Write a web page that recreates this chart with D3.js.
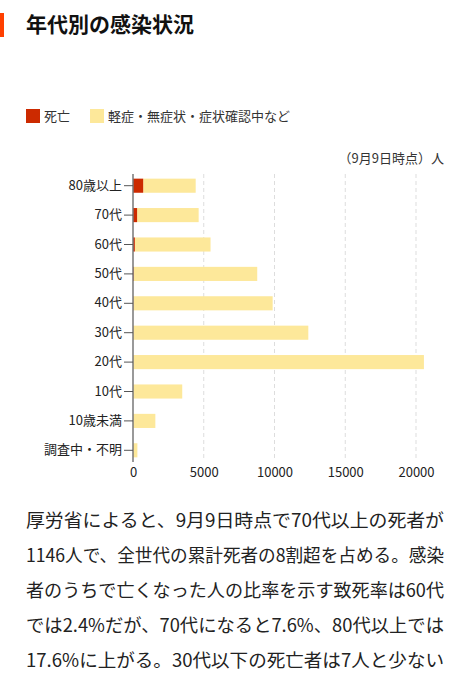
<!DOCTYPE html>
<html><head><meta charset="utf-8">
<script src="https://cdn.jsdelivr.net/npm/d3@7"></script>
<style>body{margin:0;background:#fff;font-family:"Noto Sans CJK JP","Noto Sans",sans-serif}</style>
</head><body><svg id="c" width="459" height="679"></svg>
<script>
const categories=["80歳以上","70代","60代","50代","40代","30代","20代","10代","10歳未満","調査中・不明"];
const deaths=[720,290,130,40,15,5,2,0,0,0];
const totals=[4430,4640,5480,8780,9870,12390,20560,3480,1580,310];
const xTicks=[0,5000,10000,15000,20000];
const seriesNames=["死亡","軽症・無症状・症状確認中など"];
const colors=["#cc2a00","#fde89a"];
const paragraph=["厚労省によると、9月9日時点で70代以上の死者が","1146人で、全世代の累計死者の8割超を占める。感染","者のうちで亡くなった人の比率を示す致死率は60代","では2.4%だが、70代になると7.6%、80代以上では","17.6%に上がる。30代以下の死亡者は7人と少ない"];

const svg=d3.select("#c");
svg.append("rect").attr("x",0).attr("y",13).attr("width",4).attr("height",24).attr("fill","#ff4000");
svg.append("text").attr("x",26).attr("y",32).attr("font-size",21).attr("font-weight","bold").attr("fill","#111").text("年代別の感染状況");

// legend
let lx=26;
seriesNames.forEach((n,i)=>{
  svg.append("rect").attr("x",lx).attr("y",109).attr("width",14).attr("height",14).attr("fill",colors[i]);
  const t=svg.append("text").attr("x",lx+18).attr("y",121).attr("font-size",13).attr("fill","#333").text(n);
  lx+=18+t.node().getComputedTextLength()+20;
});
svg.append("text").attr("x",444).attr("y",163).attr("text-anchor","end").attr("font-size",13).attr("fill","#333").text("（9月9日時点）人");

const x=d3.scaleLinear().domain([0,20000]).range([133,416]);
const y=d3.scaleBand().domain(categories).range([171,465]).paddingInner(0.52).paddingOuter(0.26);

svg.append("g").selectAll("line").data(xTicks.slice(1)).join("line")
 .attr("x1",d=>x(d)).attr("x2",d=>x(d)).attr("y1",174).attr("y2",460)
 .attr("stroke","#ddd").attr("stroke-dasharray","4,3");

categories.forEach((c,i)=>{
  svg.append("rect").attr("x",x(deaths[i])).attr("y",y(c)).attr("width",x(totals[i])-x(deaths[i])).attr("height",y.bandwidth()).attr("fill",colors[1]);
  svg.append("rect").attr("x",x(0)).attr("y",y(c)).attr("width",x(deaths[i])-x(0)).attr("height",y.bandwidth()).attr("fill",colors[0]);
});

const ya=svg.append("g").attr("transform","translate(133,0)").call(d3.axisLeft(y).tickSize(9).tickSizeOuter(0));
ya.select(".domain").attr("stroke","#777").attr("stroke-width",1.5).attr("d","M0,174V462");
ya.selectAll(".tick line").attr("stroke","#555");
ya.selectAll("text").attr("font-size",13).attr("fill","#222").attr("font-family","Noto Sans CJK JP").attr("x",-11);

const xa=svg.append("g").attr("transform","translate(0,462)").call(d3.axisBottom(x).tickValues(xTicks).tickSize(0).tickFormat(d3.format("d")));
xa.select(".domain").remove();
xa.selectAll("text").attr("font-size",13).attr("fill","#222").attr("dy","0.9em").attr("font-family","Noto Sans CJK JP");

paragraph.forEach((l,i)=>{
  svg.append("text").attr("x",26).attr("y",527+i*35).attr("font-size",18).attr("fill","#222").attr("textLength",418).attr("lengthAdjust","spacingAndGlyphs").text(l);
});
</script></body></html>
